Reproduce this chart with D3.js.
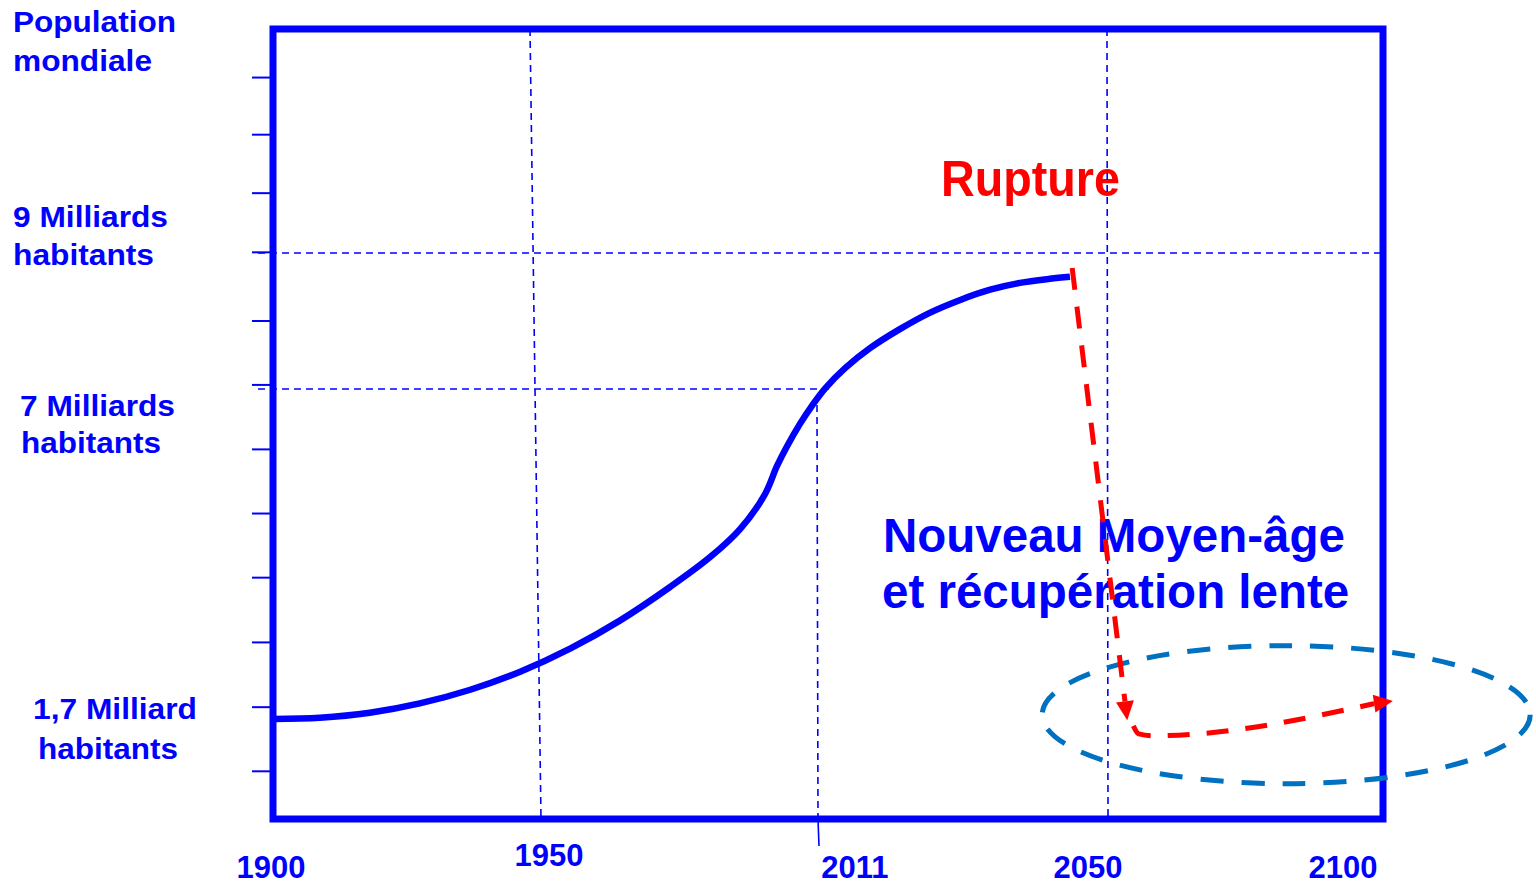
<!DOCTYPE html>
<html>
<head>
<meta charset="utf-8">
<script src="https://cdn.jsdelivr.net/npm/d3@7"></script>
<style>
  html, body { margin: 0; padding: 0; background: #fff; }
  text { font-family: "Liberation Sans", Arial, sans-serif; font-weight: bold; }
</style>
</head>
<body>
<div id="chart"></div>
<script>
// years on the (schematic) time axis
const years = [1900, 1950, 2011, 2050, 2100];
const yearLabels = ["1900", "1950", "2011", "2050", "2100"];

// world population curve (billions)
const popYears = [1900, 1908.9, 1918.4, 1927.9, 1937.5, 1947.0, 1957.4, 1968.2, 1979.1, 1987.8,
  1994.3, 1999.7, 2002.3, 2004.5, 2007.3, 2009.9, 2012.1, 2014.8, 2018.1, 2022.1,
  2026.1, 2030.2, 2034.2, 2038.2, 2042.2, 2044.9];
const popValues = [1.70, 1.72, 1.80, 1.95, 2.17, 2.46, 2.83, 3.28, 3.82, 4.30,
  4.75, 5.31, 5.76, 6.08, 6.44, 6.73, 7.01, 7.31, 7.60, 7.88,
  8.12, 8.31, 8.46, 8.56, 8.62, 8.65];

// the collapse and the slow recovery
const ruptureYears = [2045.2, 2053.5];
const ruptureValues = [8.78, 1.68];
const recoveryYears = [2054.6, 2055.6, 2058.2, 2101.8];
const recoveryValues = [1.59, 1.46, 1.43, 1.99];

// reference lines
const refYears = [1950, 2011, 2050];
const refValues = [7, 9];

// y tick marks (billions)
const yTicks = [0.86, 1.89, 2.93, 3.97, 5.0, 6.03, 7.06, 8.0, 9.01, 9.88, 10.74, 11.58];

// labels on the left
const popLabels = [
  ["Population", "mondiale"],
  ["9 Milliards", "habitants"],
  ["7 Milliards", "habitants"],
  ["1,7 Milliard", "habitants"]
];

// annotation ellipse centre
const ellipseYear = 2082.4;
const ellipseValue = 1.77;

// ---- layout ----
const width = 1536, height = 884;
const frame = { left: 273, top: 29, right: 1383, bottom: 819 };
const blue = "#0000ff", red = "#ff0000", ellipseBlue = "#0070c0";

const x = d3.scaleLinear()
  .domain(years)
  .range([273, 536, 817, 1108, 1383]);

const y = d3.scaleLinear()
  .domain([1.7, 7, 9])
  .range([719, 389, 253]);

const svg = d3.select("#chart").append("svg")
  .attr("width", width)
  .attr("height", height)
  .style("display", "block");

svg.append("rect").attr("width", width).attr("height", height).attr("fill", "#fff");

// left labels
const labelPos = [
  { x: [13, 13], y: [32, 71], w: [163, 139] },
  { x: [13, 13], y: [227, 265], w: [155, 141] },
  { x: [20, 21], y: [416, 453], w: [155, 140] },
  { x: [33, 38], y: [719, 759], w: [164, 140] }
];
popLabels.forEach((lines, i) => {
  lines.forEach((t, j) => {
    svg.append("text")
      .attr("x", labelPos[i].x[j])
      .attr("y", labelPos[i].y[j])
      .attr("font-size", 29)
      .attr("fill", blue)
      .attr("textLength", labelPos[i].w[j])
      .attr("lengthAdjust", "spacingAndGlyphs")
      .text(t);
  });
});

// year labels
const yearDx = [-2, 13, 38, -20, -40];
const yearBase = [878, 866, 878, 878, 878];
svg.selectAll(".year")
  .data(years)
  .enter()
  .append("text")
  .attr("class", "year")
  .attr("x", (d, i) => x(d) + yearDx[i])
  .attr("y", (d, i) => yearBase[i])
  .attr("text-anchor", "middle")
  .attr("font-size", 31)
  .attr("fill", blue)
  .text((d, i) => yearLabels[i]);

// annotation texts
svg.append("text")
  .attr("x", 941).attr("y", 196)
  .attr("font-size", 50)
  .attr("fill", red)
  .attr("textLength", 179)
  .attr("lengthAdjust", "spacingAndGlyphs")
  .text("Rupture");

svg.append("text")
  .attr("x", 883).attr("y", 552)
  .attr("font-size", 47.5)
  .attr("fill", blue)
  .text("Nouveau Moyen-âge");
svg.append("text")
  .attr("x", 882).attr("y", 608)
  .attr("font-size", 47.5)
  .attr("fill", blue)
  .text("et récupération lente");

// y ticks outside the frame
svg.selectAll(".tick")
  .data(yTicks)
  .enter()
  .append("line")
  .attr("x1", 252).attr("x2", frame.left)
  .attr("y1", d => y(d)).attr("y2", d => y(d))
  .attr("stroke", blue)
  .attr("stroke-width", 2);

// dashed reference lines
const grid = svg.append("g")
  .attr("stroke", blue)
  .attr("stroke-width", 1.6)
  .attr("stroke-dasharray", "7,5")
  .attr("fill", "none");

// 1950 (slightly slanted in the drawing)
grid.append("line")
  .attr("x1", x(refYears[0]) - 6).attr("y1", frame.top)
  .attr("x2", x(refYears[0]) + 5).attr("y2", frame.bottom);
// 2011, from just under the 7 billion line
grid.append("line")
  .attr("x1", x(refYears[1])).attr("y1", y(refValues[0]) + 16)
  .attr("x2", x(refYears[1]) + 1).attr("y2", frame.bottom);
// 2050
grid.append("line")
  .attr("x1", x(refYears[2]) - 1).attr("y1", frame.top)
  .attr("x2", x(refYears[2])).attr("y2", frame.bottom);
// 7 billion, up to 2011
grid.append("line")
  .attr("x1", 258).attr("y1", y(refValues[0]))
  .attr("x2", x(refYears[1]) + 15).attr("y2", y(refValues[0]));
// 9 billion
grid.append("line")
  .attr("x1", 258).attr("y1", y(refValues[1]))
  .attr("x2", frame.right).attr("y2", y(refValues[1]));

// 2011 tick below the frame
svg.append("line")
  .attr("x1", x(2011) + 1).attr("y1", frame.bottom)
  .attr("x2", x(2011) + 2).attr("y2", 846)
  .attr("stroke", blue).attr("stroke-width", 1.6);

// frame
svg.append("rect")
  .attr("x", frame.left).attr("y", frame.top)
  .attr("width", frame.right - frame.left)
  .attr("height", frame.bottom - frame.top)
  .attr("fill", "none")
  .attr("stroke", blue)
  .attr("stroke-width", 7);

// population curve
const popData = popYears.map((d, i) => [d, popValues[i]]);
const line = d3.line()
  .x(d => x(d[0]))
  .y(d => y(d[1]))
  .curve(d3.curveCatmullRom.alpha(0.5));

svg.append("path")
  .datum(popData)
  .attr("d", line)
  .attr("fill", "none")
  .attr("stroke", blue)
  .attr("stroke-width", 6.5);

// ellipse
svg.append("ellipse")
  .attr("cx", x(ellipseYear))
  .attr("cy", y(ellipseValue))
  .attr("rx", 244)
  .attr("ry", 69)
  .attr("fill", "none")
  .attr("stroke", ellipseBlue)
  .attr("stroke-width", 5)
  .attr("stroke-dasharray", "23,18");

// red dashed arrows
function arrow(xs, vs, curve) {
  const pts = xs.map((d, i) => [x(d), y(vs[i])]);
  const tip = pts[pts.length - 1];
  const prev = pts[pts.length - 2];
  const dx = tip[0] - prev[0], dy = tip[1] - prev[1];
  const len = Math.hypot(dx, dy);
  const ux = dx / len, uy = dy / len;
  const headLen = 19, half = 9;
  const base = [tip[0] - ux * headLen, tip[1] - uy * headLen];
  const shaft = pts.slice(0, -1).concat([base]);

  svg.append("path")
    .attr("d", d3.line().curve(curve)(shaft))
    .attr("fill", "none")
    .attr("stroke", red)
    .attr("stroke-width", 5)
    .attr("stroke-dasharray", "22,17");

  svg.append("path")
    .attr("d", d3.line()([
      tip,
      [base[0] - uy * half, base[1] + ux * half],
      [base[0] + uy * half, base[1] - ux * half]
    ]) + "Z")
    .attr("fill", red);
}

arrow(ruptureYears, ruptureValues, d3.curveLinear);
arrow(recoveryYears, recoveryValues, d3.curveMonotoneX);
</script>
</body>
</html>
